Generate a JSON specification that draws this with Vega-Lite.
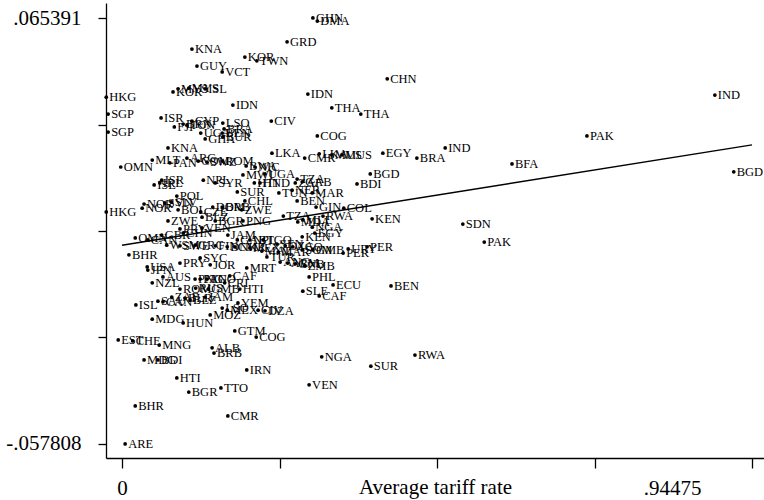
{
  "$schema": "https://vega.github.io/schema/vega-lite/v6.json",
  "width": 658,
  "height": 455,
  "autosize": {"type": "none"},
  "padding": {"left": 106, "top": 3, "right": 0, "bottom": 42},
  "background": "white",
  "config": {"view": {"stroke": null}, "font": "Liberation Serif"},
  "datasets": {
    "fit": [
      {"tariff": 0, "growth": -0.0003},
      {"tariff": 1, "growth": 0.0287}
    ],
    "countries": [
      {"iso": "GHN", "tariff": 0.303, "growth": 0.0654},
      {"iso": "DMA", "tariff": 0.310, "growth": 0.0645},
      {"iso": "GRD", "tariff": 0.262, "growth": 0.0585},
      {"iso": "KNA", "tariff": 0.111, "growth": 0.0564},
      {"iso": "KOR", "tariff": 0.195, "growth": 0.0541},
      {"iso": "TWN", "tariff": 0.214, "growth": 0.0530},
      {"iso": "GUY", "tariff": 0.119, "growth": 0.0515},
      {"iso": "VCT", "tariff": 0.159, "growth": 0.0498},
      {"iso": "CHN", "tariff": 0.421, "growth": 0.0478},
      {"iso": "KOR", "tariff": 0.081, "growth": 0.0440},
      {"iso": "MYS", "tariff": 0.089, "growth": 0.0449},
      {"iso": "MYS", "tariff": 0.106, "growth": 0.0451},
      {"iso": "ISL", "tariff": 0.132, "growth": 0.0449},
      {"iso": "IND", "tariff": 0.941, "growth": 0.0431},
      {"iso": "HKG", "tariff": -0.025, "growth": 0.0425},
      {"iso": "IDN", "tariff": 0.176, "growth": 0.0402},
      {"iso": "IDN", "tariff": 0.295, "growth": 0.0434},
      {"iso": "THA", "tariff": 0.333, "growth": 0.0394},
      {"iso": "THA", "tariff": 0.379, "growth": 0.0376},
      {"iso": "SGP", "tariff": -0.022, "growth": 0.0376},
      {"iso": "ISR", "tariff": 0.062, "growth": 0.0365},
      {"iso": "CYP", "tariff": 0.111, "growth": 0.0356},
      {"iso": "FJI", "tariff": 0.083, "growth": 0.0339},
      {"iso": "BRN", "tariff": 0.097, "growth": 0.0347},
      {"iso": "TON", "tariff": 0.103, "growth": 0.0344},
      {"iso": "LSO", "tariff": 0.160, "growth": 0.0350},
      {"iso": "CIV", "tariff": 0.237, "growth": 0.0356},
      {"iso": "BRA", "tariff": 0.162, "growth": 0.0333},
      {"iso": "SGP", "tariff": -0.022, "growth": 0.0324},
      {"iso": "UGA", "tariff": 0.125, "growth": 0.0321},
      {"iso": "BEN", "tariff": 0.159, "growth": 0.0321},
      {"iso": "BUR", "tariff": 0.160, "growth": 0.0310},
      {"iso": "GHA", "tariff": 0.132, "growth": 0.0304},
      {"iso": "COG", "tariff": 0.310, "growth": 0.0313},
      {"iso": "PAK", "tariff": 0.738, "growth": 0.0313},
      {"iso": "KNA", "tariff": 0.073, "growth": 0.0278},
      {"iso": "IND", "tariff": 0.513, "growth": 0.0278},
      {"iso": "LKA", "tariff": 0.238, "growth": 0.0263},
      {"iso": "EGY", "tariff": 0.414, "growth": 0.0263},
      {"iso": "LKA", "tariff": 0.313, "growth": 0.0261},
      {"iso": "MUS", "tariff": 0.333, "growth": 0.0258},
      {"iso": "MUS", "tariff": 0.349, "growth": 0.0258},
      {"iso": "CMR", "tariff": 0.290, "growth": 0.0249},
      {"iso": "BRA", "tariff": 0.468, "growth": 0.0249},
      {"iso": "MLT", "tariff": 0.048, "growth": 0.0243},
      {"iso": "ARG", "tariff": 0.103, "growth": 0.0249},
      {"iso": "PAN", "tariff": 0.076, "growth": 0.0235},
      {"iso": "COM", "tariff": 0.121, "growth": 0.0240},
      {"iso": "SWZ", "tariff": 0.135, "growth": 0.0237},
      {"iso": "ROM", "tariff": 0.159, "growth": 0.0240},
      {"iso": "BFA", "tariff": 0.619, "growth": 0.0232},
      {"iso": "BWA", "tariff": 0.197, "growth": 0.0226},
      {"iso": "NIC", "tariff": 0.211, "growth": 0.0223},
      {"iso": "OMN", "tariff": -0.002, "growth": 0.0223},
      {"iso": "BGD", "tariff": 0.971, "growth": 0.0209},
      {"iso": "UGA", "tariff": 0.227, "growth": 0.0203},
      {"iso": "BGD", "tariff": 0.394, "growth": 0.0203},
      {"iso": "MWI", "tariff": 0.192, "growth": 0.0200},
      {"iso": "TZA", "tariff": 0.278, "growth": 0.0188},
      {"iso": "ISR", "tariff": 0.063, "growth": 0.0185},
      {"iso": "NPL", "tariff": 0.129, "growth": 0.0185},
      {"iso": "SYR", "tariff": 0.148, "growth": 0.0177},
      {"iso": "HTI", "tariff": 0.210, "growth": 0.0177},
      {"iso": "HND", "tariff": 0.219, "growth": 0.0177},
      {"iso": "IRL", "tariff": 0.060, "growth": 0.0177},
      {"iso": "ZAF", "tariff": 0.275, "growth": 0.0177},
      {"iso": "GAB", "tariff": 0.286, "growth": 0.0180},
      {"iso": "BDI", "tariff": 0.373, "growth": 0.0174},
      {"iso": "ISL", "tariff": 0.051, "growth": 0.0171},
      {"iso": "NER", "tariff": 0.270, "growth": 0.0156},
      {"iso": "SUR", "tariff": 0.183, "growth": 0.0151},
      {"iso": "TUN", "tariff": 0.249, "growth": 0.0148},
      {"iso": "MAR", "tariff": 0.302, "growth": 0.0148},
      {"iso": "POL", "tariff": 0.087, "growth": 0.0139},
      {"iso": "BEN", "tariff": 0.278, "growth": 0.0125},
      {"iso": "CHL", "tariff": 0.195, "growth": 0.0125},
      {"iso": "SLV", "tariff": 0.079, "growth": 0.0122},
      {"iso": "SVN", "tariff": 0.068, "growth": 0.0119},
      {"iso": "NOR", "tariff": 0.035, "growth": 0.0116},
      {"iso": "BRB", "tariff": 0.159, "growth": 0.0107},
      {"iso": "GIN", "tariff": 0.308, "growth": 0.0107},
      {"iso": "COL", "tariff": 0.352, "growth": 0.0104},
      {"iso": "NOR", "tariff": 0.032, "growth": 0.0104},
      {"iso": "BOL", "tariff": 0.089, "growth": 0.0099},
      {"iso": "ZWE", "tariff": 0.190, "growth": 0.0099},
      {"iso": "CZE", "tariff": 0.125, "growth": 0.0093},
      {"iso": "HKG", "tariff": -0.025, "growth": 0.0093},
      {"iso": "DOM", "tariff": 0.144, "growth": 0.0107},
      {"iso": "TZA", "tariff": 0.256, "growth": 0.0081},
      {"iso": "RWA", "tariff": 0.319, "growth": 0.0081},
      {"iso": "SDN", "tariff": 0.541, "growth": 0.0058},
      {"iso": "KEN", "tariff": 0.397, "growth": 0.0073},
      {"iso": "ZWE", "tariff": 0.073, "growth": 0.0067},
      {"iso": "PNG", "tariff": 0.192, "growth": 0.0067},
      {"iso": "BLZ", "tariff": 0.127, "growth": 0.0078},
      {"iso": "BGR", "tariff": 0.148, "growth": 0.0067},
      {"iso": "MDA", "tariff": 0.279, "growth": 0.0064},
      {"iso": "MLI", "tariff": 0.287, "growth": 0.0070},
      {"iso": "NGA", "tariff": 0.302, "growth": 0.0049},
      {"iso": "EGY", "tariff": 0.306, "growth": 0.0032},
      {"iso": "PRY", "tariff": 0.092, "growth": 0.0044},
      {"iso": "VEN", "tariff": 0.127, "growth": 0.0047},
      {"iso": "KEN", "tariff": 0.286, "growth": 0.0021},
      {"iso": "PAK", "tariff": 0.575, "growth": 0.0006},
      {"iso": "OMN", "tariff": 0.021, "growth": 0.0018},
      {"iso": "CAN", "tariff": 0.041, "growth": 0.0012},
      {"iso": "GBR", "tariff": 0.063, "growth": 0.0026},
      {"iso": "CHN", "tariff": 0.097, "growth": 0.0032},
      {"iso": "JAM", "tariff": 0.168, "growth": 0.0026},
      {"iso": "GAB", "tariff": 0.183, "growth": 0.0012},
      {"iso": "NPL", "tariff": 0.203, "growth": 0.0012},
      {"iso": "TGO", "tariff": 0.224, "growth": 0.0012},
      {"iso": "SEN", "tariff": 0.246, "growth": 0.0000},
      {"iso": "DZA", "tariff": 0.259, "growth": -0.0005},
      {"iso": "AGO", "tariff": 0.271, "growth": -0.0008},
      {"iso": "SOM", "tariff": 0.286, "growth": -0.0017},
      {"iso": "GMB", "tariff": 0.303, "growth": -0.0017},
      {"iso": "PER", "tariff": 0.351, "growth": -0.0026},
      {"iso": "URY", "tariff": 0.359, "growth": -0.0014},
      {"iso": "PER", "tariff": 0.389, "growth": -0.0008},
      {"iso": "WSM", "tariff": 0.071, "growth": -0.0003},
      {"iso": "SWE", "tariff": 0.092, "growth": -0.0005},
      {"iso": "GRC", "tariff": 0.116, "growth": -0.0003},
      {"iso": "FIN", "tariff": 0.148, "growth": -0.0005},
      {"iso": "DNK", "tariff": 0.167, "growth": -0.0008},
      {"iso": "CMR", "tariff": 0.179, "growth": -0.0008},
      {"iso": "MEX", "tariff": 0.203, "growth": -0.0011},
      {"iso": "MAL", "tariff": 0.222, "growth": -0.0020},
      {"iso": "MAR", "tariff": 0.248, "growth": -0.0023},
      {"iso": "BHR", "tariff": 0.011, "growth": -0.0031},
      {"iso": "SYC", "tariff": 0.124, "growth": -0.0040},
      {"iso": "JOR", "tariff": 0.140, "growth": -0.0060},
      {"iso": "TUR", "tariff": 0.230, "growth": -0.0037},
      {"iso": "ANG", "tariff": 0.251, "growth": -0.0052},
      {"iso": "ARM", "tariff": 0.263, "growth": -0.0055},
      {"iso": "GNB", "tariff": 0.275, "growth": -0.0057},
      {"iso": "ZMB", "tariff": 0.290, "growth": -0.0063},
      {"iso": "PRY", "tariff": 0.092, "growth": -0.0055},
      {"iso": "MRT", "tariff": 0.198, "growth": -0.0069},
      {"iso": "USA", "tariff": 0.040, "growth": -0.0066},
      {"iso": "JPN", "tariff": 0.041, "growth": -0.0075},
      {"iso": "AUS", "tariff": 0.065, "growth": -0.0095},
      {"iso": "CAF", "tariff": 0.171, "growth": -0.0092},
      {"iso": "PHL", "tariff": 0.297, "growth": -0.0095},
      {"iso": "PNG", "tariff": 0.116, "growth": -0.0101},
      {"iso": "PAN", "tariff": 0.124, "growth": -0.0101},
      {"iso": "TGO", "tariff": 0.135, "growth": -0.0101},
      {"iso": "CRI", "tariff": 0.163, "growth": -0.0112},
      {"iso": "NZL", "tariff": 0.048, "growth": -0.0112},
      {"iso": "ECU", "tariff": 0.335, "growth": -0.0118},
      {"iso": "BEN", "tariff": 0.427, "growth": -0.0121},
      {"iso": "ROM", "tariff": 0.092, "growth": -0.0130},
      {"iso": "GMB", "tariff": 0.137, "growth": -0.0130},
      {"iso": "RUS", "tariff": 0.117, "growth": -0.0127},
      {"iso": "HTI", "tariff": 0.187, "growth": -0.0130},
      {"iso": "SLE", "tariff": 0.287, "growth": -0.0136},
      {"iso": "CAF", "tariff": 0.313, "growth": -0.0150},
      {"iso": "ZAF", "tariff": 0.079, "growth": -0.0153},
      {"iso": "JAM", "tariff": 0.132, "growth": -0.0153},
      {"iso": "SAU", "tariff": 0.057, "growth": -0.0165},
      {"iso": "CAN", "tariff": 0.065, "growth": -0.0167},
      {"iso": "BLR", "tariff": 0.100, "growth": -0.0156},
      {"iso": "BLZ", "tariff": 0.108, "growth": -0.0162},
      {"iso": "YEM", "tariff": 0.184, "growth": -0.0170},
      {"iso": "ISL", "tariff": 0.022, "growth": -0.0176},
      {"iso": "LSO", "tariff": 0.159, "growth": -0.0185},
      {"iso": "MEX", "tariff": 0.167, "growth": -0.0191},
      {"iso": "MOZ", "tariff": 0.140, "growth": -0.0205},
      {"iso": "CIV", "tariff": 0.216, "growth": -0.0191},
      {"iso": "DZA", "tariff": 0.227, "growth": -0.0193},
      {"iso": "MDG", "tariff": 0.048, "growth": -0.0217},
      {"iso": "HUN", "tariff": 0.097, "growth": -0.0228},
      {"iso": "GTM", "tariff": 0.179, "growth": -0.0251},
      {"iso": "COG", "tariff": 0.213, "growth": -0.0269},
      {"iso": "EST", "tariff": -0.006, "growth": -0.0277},
      {"iso": "CHE", "tariff": 0.017, "growth": -0.0280},
      {"iso": "MNG", "tariff": 0.059, "growth": -0.0292},
      {"iso": "ALB", "tariff": 0.143, "growth": -0.0300},
      {"iso": "BRB", "tariff": 0.146, "growth": -0.0315},
      {"iso": "MDG", "tariff": 0.035, "growth": -0.0335},
      {"iso": "BDI", "tariff": 0.057, "growth": -0.0335},
      {"iso": "NGA", "tariff": 0.317, "growth": -0.0326},
      {"iso": "RWA", "tariff": 0.465, "growth": -0.0321},
      {"iso": "SUR", "tariff": 0.395, "growth": -0.0353},
      {"iso": "IRN", "tariff": 0.198, "growth": -0.0364},
      {"iso": "HTI", "tariff": 0.087, "growth": -0.0387},
      {"iso": "VEN", "tariff": 0.297, "growth": -0.0407},
      {"iso": "TTO", "tariff": 0.157, "growth": -0.0416},
      {"iso": "BGR", "tariff": 0.106, "growth": -0.0428},
      {"iso": "BHR", "tariff": 0.021, "growth": -0.0468},
      {"iso": "CMR", "tariff": 0.168, "growth": -0.0497},
      {"iso": "ARE", "tariff": 0.005, "growth": -0.0578}
    ]
  },
  "encoding": {
    "x": {
      "field": "tariff",
      "type": "quantitative",
      "scale": {"domain": [-0.0254, 1.019], "nice": false, "zero": false},
      "axis": {
        "title": "Average tariff rate",
        "values": [0, 0.25, 0.5, 0.75, 0.873, 1],
        "labelExpr": "datum.value == 0 ? '0' : (datum.value > 0.8 && datum.value < 0.9 ? '.94475' : '')",
        "tickOpacity": {"condition": {"test": "datum.value > 0.8 && datum.value < 0.9", "value": 0}, "value": 1},
        "grid": false,
        "tickSize": 10,
        "tickWidth": 1.3,
        "tickColor": "black",
        "domainColor": "black",
        "domainWidth": 1.3,
        "labelFont": "Liberation Serif",
        "labelFontSize": 21,
        "labelColor": "black",
        "labelPadding": 9,
        "labelBaseline": "top",
        "labelFlush": false,
        "labelOverlap": false,
        "titleFont": "Liberation Serif",
        "titleFontSize": 21,
        "titleFontWeight": "normal",
        "titleColor": "black",
        "titleBaseline": "alphabetic",
        "titleY": 35
      }
    },
    "y": {
      "field": "growth",
      "type": "quantitative",
      "scale": {"domain": [-0.06186, 0.06973], "nice": false, "zero": false},
      "axis": {
        "title": null,
        "values": [-0.057808, -0.027008, 0.003792, 0.034591, 0.065391],
        "labelExpr": "datum.value > 0.06 ? '.065391' : (datum.value < -0.05 ? '-.057808' : '')",
        "grid": false,
        "tickSize": 8,
        "tickWidth": 1.3,
        "tickColor": "black",
        "domainColor": "black",
        "domainWidth": 1.3,
        "labelFont": "Liberation Serif",
        "labelFontSize": 21,
        "labelColor": "black",
        "labelPadding": 17,
        "labelFlush": false,
        "labelOverlap": false
      }
    }
  },
  "layer": [
    {
      "data": {"name": "fit"},
      "mark": {"type": "line", "color": "black", "strokeWidth": 1.5},
      "encoding": {}
    },
    {
      "data": {"name": "countries"},
      "mark": {"type": "circle", "size": 14, "color": "black", "opacity": 1}
    },
    {
      "data": {"name": "countries"},
      "mark": {"type": "text", "align": "left", "baseline": "middle", "dx": 3, "font": "Liberation Serif", "fontSize": 12.5, "color": "black"},
      "encoding": {"text": {"field": "iso"}}
    }
  ]
}
